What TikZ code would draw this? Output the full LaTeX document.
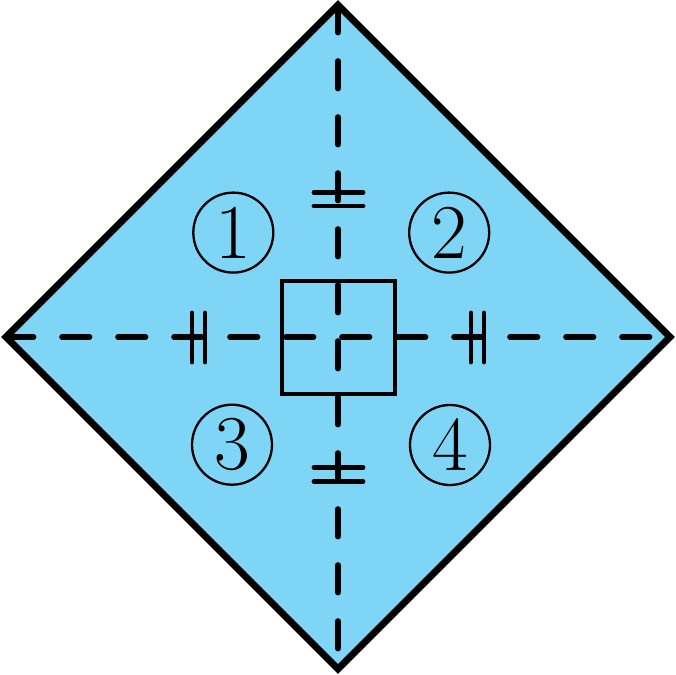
\documentclass[tikz,border=0pt]{standalone}
\definecolor{fillblue}{HTML}{7FD5F6}
\tikzset{
  dashline/.style={line width=2.8pt, line cap=round, dash pattern=on 13.8pt off 14.2pt},
  tickline/.style={line width=2.4pt, line cap=round},
  sqbox/.style={draw, line width=1.8pt, minimum size=56.5pt, inner sep=0pt},
  circnum/.style={draw, circle, line width=1.15pt, minimum size=40pt, inner sep=0pt, font=\fontsize{38.8}{40}\selectfont},
  outline/.style={line width=3.5pt, line join=miter}
}
\begin{document}
\begin{tikzpicture}[x=0.5pt,y=-0.5pt]
\useasboundingbox (0,0) rectangle (676,675);
\coordinate (T) at (338,5);
\coordinate (R) at (670,337);
\coordinate (B) at (338,669);
\coordinate (L) at (6,337);
\coordinate (C) at (338.3,337.2);
\fill[fillblue] (T) -- (R) -- (B) -- (L) -- cycle;
\draw[dashline] (L) -- (R);
\draw[dashline] (T) -- (B);
% ticks
\coordinate (l1a) at (192,313); \coordinate (l1b) at (192,362);
\coordinate (l2a) at (205,313); \coordinate (l2b) at (205,362);
\coordinate (r1a) at (471,313); \coordinate (r1b) at (471,362);
\coordinate (r2a) at (484,313); \coordinate (r2b) at (484,362);
\coordinate (t1a) at (314,192.7); \coordinate (t1b) at (363,192.7);
\coordinate (t2a) at (314,206); \coordinate (t2b) at (363,206);
\coordinate (b1a) at (314,467.3); \coordinate (b1b) at (363,467.3);
\coordinate (b2a) at (314,481.7); \coordinate (b2b) at (363,481.7);
\draw[tickline] (l1a) -- (l1b);
\draw[tickline] (l2a) -- (l2b);
\draw[tickline] (r1a) -- (r1b);
\draw[tickline] (r2a) -- (r2b);
\draw[tickline] (t1a) -- (t1b);
\draw[tickline] (t2a) -- (t2b);
\draw[tickline] (b1a) -- (b1b);
\draw[tickline] (b2a) -- (b2b);
% square
\node[sqbox] (sq) at (C) {};
% circled numbers
\node[circnum] (n1) at (233.3,232.6) {1};
\node[circnum] (n2) at (449.2,232.6) {2};
\node[circnum] (n3) at (232,444.7) {3};
\node[circnum] (n4) at (450,445) {4};
% outline
\draw[outline] (T) -- (R) -- (B) -- (L) -- cycle;
\end{tikzpicture}
\end{document}
